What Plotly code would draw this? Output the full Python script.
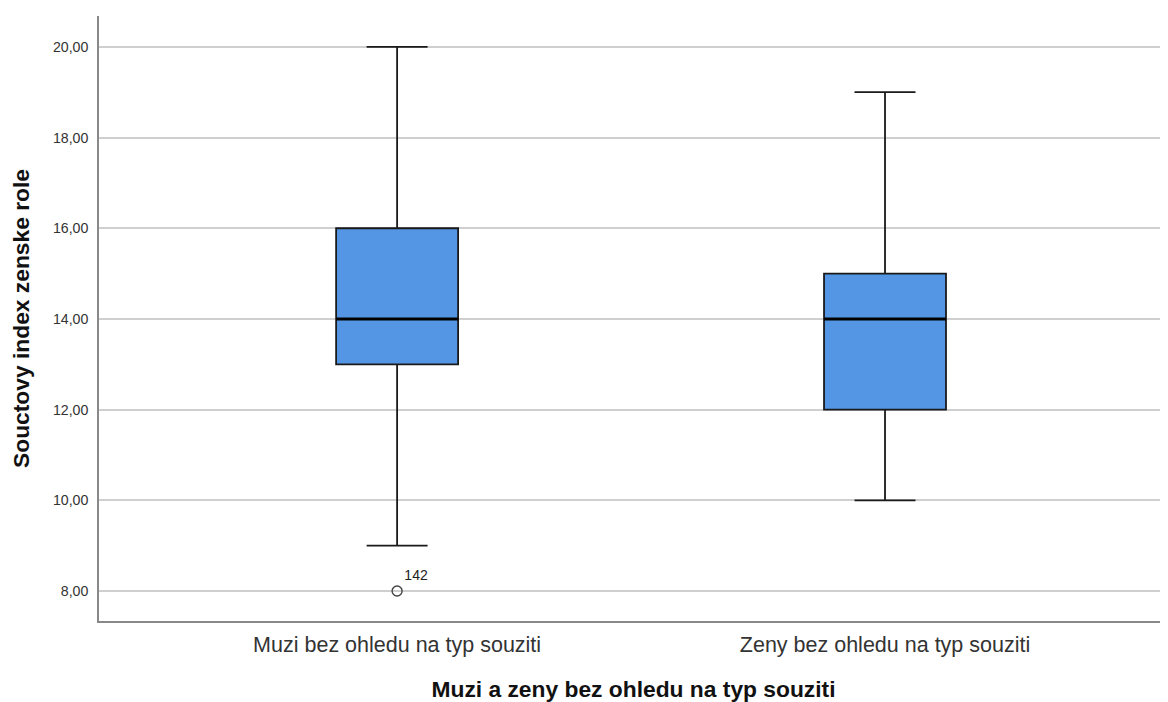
import plotly.graph_objects as go

categories = ["Muzi bez ohledu na typ souziti", "Zeny bez ohledu na typ souziti"]
q1 = [13, 12]
median = [14, 14]
q3 = [16, 15]
lower_fence = [9, 10]
upper_fence = [20, 19]
outlier_cat = ["Muzi bez ohledu na typ souziti"]
outlier_val = [8]
outlier_label = ["142"]
y_ticks = [8, 10, 12, 14, 16, 18, 20]

BOX_W = 0.25
pos = list(range(len(categories)))
FONT = "Liberation Sans, Arial, sans-serif"

fig = go.Figure()
fig.add_trace(go.Box(
    x=pos, q1=q1, median=median, q3=q3,
    lowerfence=lower_fence, upperfence=upper_fence,
    width=BOX_W, whiskerwidth=0.5,
    fillcolor="#5596e4", line=dict(color="#1a1a1a", width=1.8),
    boxpoints=False, showlegend=False, hoverinfo="skip",
))
# thick median lines
for i, m in zip(pos, median):
    fig.add_trace(go.Scatter(
        x=[i - BOX_W / 2, i + BOX_W / 2], y=[m, m], mode="lines",
        line=dict(color="black", width=3), showlegend=False, hoverinfo="skip",
    ))
out_pos = [categories.index(c) for c in outlier_cat]
fig.add_trace(go.Scatter(
    x=out_pos, y=outlier_val, mode="markers+text",
    marker=dict(symbol="circle-open", size=10, color="#444", line=dict(width=1.4, color="#444")),
    text=outlier_label, textposition="top right",
    textfont=dict(family=FONT, size=14, color="#222"),
    showlegend=False, hoverinfo="skip",
))

fig.update_layout(
    width=1160, height=694,
    margin=dict(l=91, r=0, t=8, b=81),
    plot_bgcolor="white", paper_bgcolor="white",
    separators=", ",
    font=dict(family=FONT, color="#222"),
    xaxis=dict(
        range=[-0.611, 1.580],
        tickvals=pos, ticktext=categories,
        tickfont=dict(size=21.5, color="#333"),
        ticks="outside", ticklen=3, tickcolor="rgba(0,0,0,0)",
        showgrid=False, zeroline=False,
        showline=True, linecolor="#888", linewidth=1.5,
        title=dict(text="<b>Muzi a zeny bez ohledu na typ souziti</b>",
                   font=dict(size=22.8, color="#111"), standoff=26),
        automargin=False,
    ),
    yaxis=dict(
        range=[7.34, 20.68],
        tickvals=y_ticks, tickformat=".2f",
        tickfont=dict(size=14.2, color="#333"),
        ticks="outside", ticklen=6, tickcolor="rgba(0,0,0,0)",
        showgrid=True, gridcolor="#cfcfcf", gridwidth=1.5,
        zeroline=False,
        showline=True, linecolor="#888", linewidth=1.5,
        title=dict(text="<b>Souctovy index zenske role</b>",
                   font=dict(size=22.8, color="#111"), standoff=17),
        automargin=False,
    ),
)

fig.write_html("out.html")
